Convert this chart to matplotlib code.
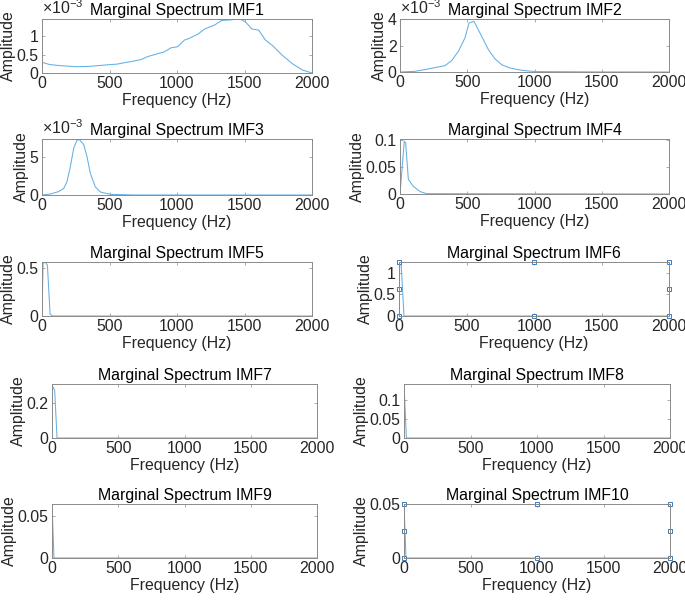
import numpy as np
import matplotlib
matplotlib.use("Agg")
import matplotlib.pyplot as plt
from matplotlib.ticker import FuncFormatter

plt.rcParams['font.family'] = ['Liberation Sans', 'DejaVu Sans']
plt.rcParams['mathtext.fontset'] = 'custom'
plt.rcParams['mathtext.rm'] = 'Liberation Sans'
plt.rcParams['font.size'] = 11.4

# Marginal spectra (frequency in Hz, amplitude)
imf1_freq = [0, 55, 130, 255, 355, 480, 555, 630, 730, 780, 855, 905, 955, 1005, 1055, 1080,
             1155, 1205, 1280, 1330, 1405, 1467, 1505, 1555, 1605, 1655, 1705, 1780, 1855, 1930, 2000]
imf1_amp = np.array([0.29, 0.23, 0.20, 0.17, 0.18, 0.22, 0.24, 0.29, 0.36, 0.44, 0.52, 0.57, 0.68, 0.71,
                     0.89, 0.92, 1.05, 1.19, 1.30, 1.42, 1.44, 1.46, 1.39, 1.19, 1.16, 0.89, 0.75, 0.48,
                     0.25, 0.08, 0.0]) * 1e-3

imf2_freq = [0, 112, 210, 285, 335, 384, 434, 483, 513, 550, 582, 620, 657, 706, 756, 818, 905, 1004, 1500, 2000]
imf2_amp = np.array([0, 0.05, 0.23, 0.38, 0.48, 0.86, 1.56, 2.57, 3.70, 3.82, 3.19, 2.44, 1.69, 1.0,
                     0.55, 0.30, 0.13, 0.03, 0.005, 0.0]) * 1e-3

imf3_freq = [0, 62, 123, 160, 185, 210, 235, 259, 277, 309, 333, 358, 395, 432, 506, 680, 2000]
imf3_amp = np.array([0, 0.13, 0.45, 0.85, 1.74, 3.75, 6.2, 7.23, 7.32, 6.65, 5.1, 2.86, 1.07, 0.4,
                     0.09, 0.0, 0.0]) * 1e-3

imf4_freq = [0, 32, 42, 62, 99, 149, 198, 2000]
imf4_amp = [0.0, 0.097, 0.094, 0.027, 0.014, 0.0045, 0.0006, 0.0]

imf5_freq = [0, 8, 25, 40, 60, 80, 2000]
imf5_amp = [0.0, 0.55, 0.56, 0.53, 0.02, 0.0, 0.0]

imf6_freq = [0, 5, 15, 37, 2000]
imf6_amp = [0.0, 1.25, 1.25, 0.0, 0.0]

imf7_freq = [0, 20, 38, 2000]
imf7_amp = [0.30, 0.27, 0.0, 0.0]

imf8_freq = [0, 18, 2000]
imf8_amp = [0.143, 0.0, 0.0]

imf9_freq = [0, 15, 2000]
imf9_amp = [0.065, 0.0, 0.0]

imf10_freq = [0, 15, 2000]
imf10_amp = [0.05, 0.0, 0.0]

freqs = [imf1_freq, imf2_freq, imf3_freq, imf4_freq, imf5_freq,
         imf6_freq, imf7_freq, imf8_freq, imf9_freq, imf10_freq]
amps = [imf1_amp, imf2_amp, imf3_amp, imf4_amp, imf5_amp,
        imf6_amp, imf7_amp, imf8_amp, imf9_amp, imf10_amp]
titles = [f"Marginal Spectrum IMF{i}" for i in range(1, 11)]
ylims = [1.46e-3, 4e-3, 7.4e-3, 0.101, 0.5625, 1.25, 0.305, 0.143, 0.065, 0.05]
yticks = [[0, 0.5e-3, 1e-3], [0, 2e-3, 4e-3], [0, 5e-3], [0, 0.05, 0.1], [0, 0.5],
          [0, 0.5, 1], [0, 0.2], [0, 0.05, 0.1], [0, 0.05], [0, 0.05]]
scaled = [True, True, True, False, False, False, False, False, False, False]
selected = [False] * 5 + [True] + [False] * 3 + [True]

# axes boxes in pixels: left, top, right, bottom
boxes = [(42, 19, 312, 73), (400, 19, 669, 72),
         (42, 139, 312, 195), (400, 139, 669, 194),
         (42, 262, 312, 316), (399, 262, 669, 316),
         (52, 384, 317, 438), (404, 384, 670, 438),
         (52, 504, 317, 558), (404, 504, 670, 558)]

W, H = 685, 600
fig = plt.figure(figsize=(W / 100, H / 100), dpi=100)

line_color = "#62b0e4"
axis_color = "#8a8a8a"
text_color = "#262626"

for i in range(10):
    l, t, r, b = boxes[i]
    ax = fig.add_axes([l / W, 1 - b / H, (r - l) / W, (b - t) / H])
    ax.plot(freqs[i], amps[i], color=line_color, linewidth=0.75)
    ax.set_xlim(0, 2000)
    ax.set_ylim(0, ylims[i])
    ax.set_xticks([0, 500, 1000, 1500, 2000])
    ax.set_yticks(yticks[i])
    if scaled[i]:
        ax.yaxis.set_major_formatter(FuncFormatter(lambda v, p: f"{v * 1e3:g}"))
        ax.text(0.0, 1.03, r"$\times10^{-3}$", transform=ax.transAxes, ha="left", va="bottom",
                color=text_color, fontsize=11.4)
    else:
        ax.yaxis.set_major_formatter(FuncFormatter(lambda v, p: f"{v:g}"))
    ax.tick_params(direction="in", top=True, right=True, length=2.5, width=0.5,
                   color=axis_color, labelcolor=text_color, pad=2.5)
    for s in ax.spines.values():
        s.set_color(axis_color)
        s.set_linewidth(0.7)
    ax.set_title(titles[i], fontsize=11.4, color="black", pad=3)
    ax.set_xlabel("Frequency (Hz)", color=text_color, labelpad=1)
    ax.set_ylabel("Amplitude", color=text_color, labelpad=0.5)

    if selected[i]:
        hx = [0, 0.5, 1, 0, 1, 0, 0.5, 1]
        hy = [0, 0, 0, 0.5, 0.5, 1, 1, 1]
        ax.plot(hx, hy, linestyle="none", marker="s", markersize=2.3, mfc="white",
                mec="#3d7ab8", mew=0.7, transform=ax.transAxes, clip_on=False)

fig.savefig("out.png", dpi=100)
